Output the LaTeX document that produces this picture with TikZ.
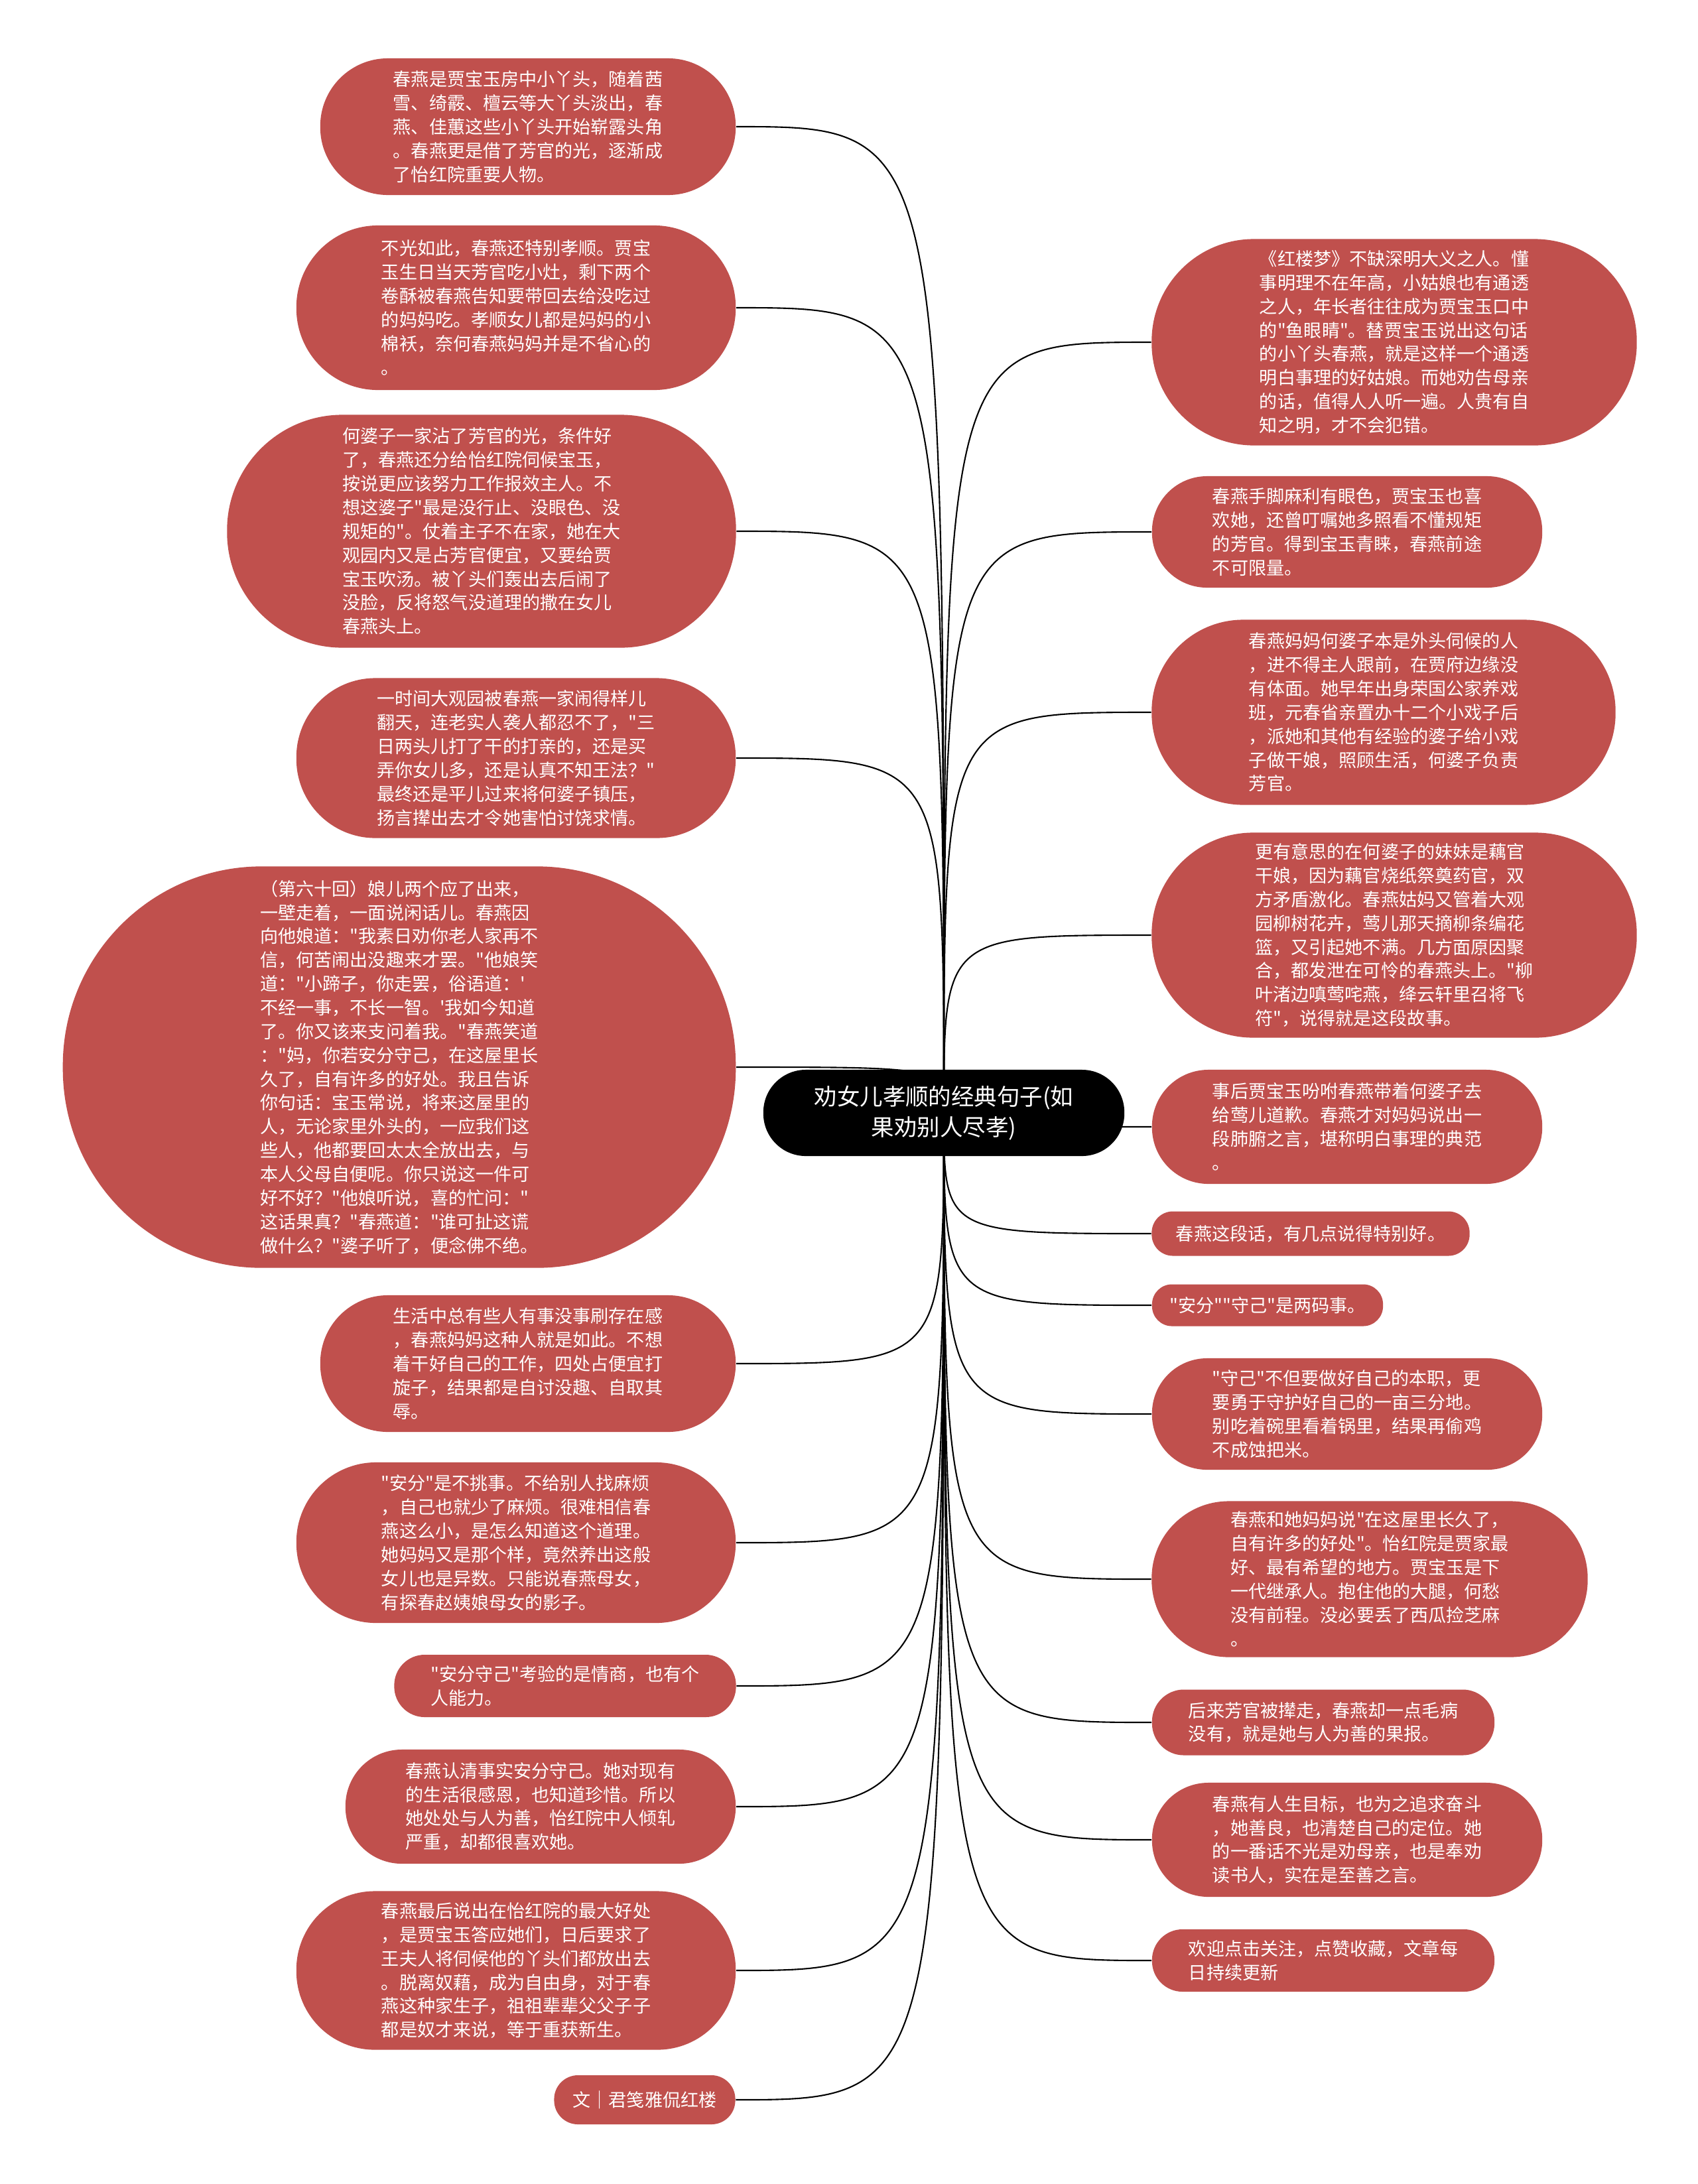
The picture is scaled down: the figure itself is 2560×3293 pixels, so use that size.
\documentclass[tikz,border=0pt]{standalone}
\usepackage{fontspec}
\newfontfamily\cjk{Noto Sans CJK SC}
\usepackage{tikz}
\usetikzlibrary{positioning}
\definecolor{leafred}{RGB}{192, 80, 77}
\pgfdeclarelayer{background}
\pgfsetlayers{background,main}

\begin{document}
\begin{tikzpicture}[x=0.01cm, y=-0.01cm,
                notebox/.style={rectangle, fill=leafred, text=white, align=left, inner sep=0pt, font=\cjk\fontsize{7.7pt}{10.2pt}\selectfont},
                titlebox/.style={rectangle, fill=black, text=white, align=center, inner sep=0pt, minimum width=5.44cm, minimum height=1.3cm, rounded corners=0.64cm, font=\cjk\fontsize{9.8pt}{13pt}\selectfont},
                branch/.style={draw=black, line width=0.6pt}
            ]
                \useasboundingbox (0,0) rectangle (2560,3293);

                \node[titlebox] (title) at (1423, 1678) {劝女儿孝顺的经典句子(如\\果劝别人尽孝)};

                % left side
                \node[notebox, minimum width=6.26cm, minimum height=2.06cm, rounded corners=1.02cm] (l1) at (796, 191) {春燕是贾宝玉房中小丫头，随着茜\\雪、绮霰、檀云等大丫头淡出，春\\燕、佳蕙这些小丫头开始崭露头角\\。春燕更是借了芳官的光，逐渐成\\了怡红院重要人物。};
                \node[notebox, minimum width=6.62cm, minimum height=2.48cm, rounded corners=1.23cm] (l2) at (778, 464) {不光如此，春燕还特别孝顺。贾宝\\玉生日当天芳官吃小灶，剩下两个\\卷酥被春燕告知要带回去给没吃过\\的妈妈吃。孝顺女儿都是妈妈的小\\棉袄，奈何春燕妈妈并是不省心的\\。};
                \node[notebox, minimum width=7.67cm, minimum height=3.51cm, rounded corners=1.74cm] (l3) at (726, 801) {何婆子一家沾了芳官的光，条件好\\了，春燕还分给怡红院伺候宝玉，\\按说更应该努力工作报效主人。不\\想这婆子"最是没行止、没眼色、没\\规矩的"。仗着主子不在家，她在大\\观园内又是占芳官便宜，又要给贾\\宝玉吹汤。被丫头们轰出去后闹了\\没脸，反将怒气没道理的撒在女儿\\春燕头上。};
                \node[notebox, minimum width=6.62cm, minimum height=2.41cm, rounded corners=1.19cm] (l4) at (778, 1143) {一时间大观园被春燕一家闹得样儿\\翻天，连老实人袭人都忍不了，"三\\日两头儿打了干的打亲的，还是买\\弄你女儿多，还是认真不知王法？"\\最终还是平儿过来将何婆子镇压，\\扬言撵出去才令她害怕讨饶求情。};
                \node[notebox, minimum width=10.14cm, minimum height=6.05cm, rounded corners=3.0cm] (l5) at (602, 1609) {（第六十回）娘儿两个应了出来，\\一壁走着，一面说闲话儿。春燕因\\向他娘道："我素日劝你老人家再不\\信，何苦闹出没趣来才罢。"他娘笑\\道："小蹄子，你走罢，俗语道：'\\不经一事，不长一智。'我如今知道\\了。你又该来支问着我。"春燕笑道\\："妈，你若安分守己，在这屋里长\\久了，自有许多的好处。我且告诉\\你句话：宝玉常说，将来这屋里的\\人，无论家里外头的，一应我们这\\些人，他都要回太太全放出去，与\\本人父母自便呢。你只说这一件可\\好不好？"他娘听说，喜的忙问："\\这话果真？"春燕道："谁可扯这谎\\做什么？"婆子听了，便念佛不绝。};
                \node[notebox, minimum width=6.26cm, minimum height=2.06cm, rounded corners=1.02cm] (l6) at (796, 2056) {生活中总有些人有事没事刷存在感\\，春燕妈妈这种人就是如此。不想\\着干好自己的工作，四处占便宜打\\旋子，结果都是自讨没趣、自取其\\辱。};
                \node[notebox, minimum width=6.62cm, minimum height=2.42cm, rounded corners=1.2cm] (l7) at (778, 2326) {"安分"是不挑事。不给别人找麻烦\\，自己也就少了麻烦。很难相信春\\燕这么小，是怎么知道这个道理。\\她妈妈又是那个样，竟然养出这般\\女儿也是异数。只能说春燕母女，\\有探春赵姨娘母女的影子。};
                \node[notebox, minimum width=5.15cm, minimum height=0.94cm, rounded corners=0.46cm] (l8) at (852, 2542) {"安分守己"考验的是情商，也有个\\人能力。};
                \node[notebox, minimum width=5.88cm, minimum height=1.72cm, rounded corners=0.85cm] (l9) at (815, 2724) {春燕认清事实安分守己。她对现有\\的生活很感恩，也知道珍惜。所以\\她处处与人为善，怡红院中人倾轧\\严重，却都很喜欢她。};
                \node[notebox, minimum width=6.62cm, minimum height=2.39cm, rounded corners=1.18cm] (l10) at (778, 2971) {春燕最后说出在怡红院的最大好处\\，是贾宝玉答应她们，日后要求了\\王夫人将伺候他的丫头们都放出去\\。脱离奴藉，成为自由身，对于春\\燕这种家生子，祖祖辈辈父父子子\\都是奴才来说，等于重获新生。};
                \node[notebox, minimum width=2.73cm, minimum height=0.74cm, rounded corners=0.36cm] (l11) at (972, 3166) {文｜君笺雅侃红楼};

                % right side
                \node[notebox, minimum width=7.31cm, minimum height=3.11cm, rounded corners=1.54cm] (r1) at (2102, 516) {《红楼梦》不缺深明大义之人。懂\\事明理不在年高，小姑娘也有通透\\之人，年长者往往成为贾宝玉口中\\的"鱼眼睛"。替贾宝玉说出这句话\\的小丫头春燕，就是这样一个通透\\明白事理的好姑娘。而她劝告母亲\\的话，值得人人听一遍。人贵有自\\知之明，才不会犯错。};
                \node[notebox, minimum width=5.88cm, minimum height=1.68cm, rounded corners=0.83cm] (r2) at (2031, 802) {春燕手脚麻利有眼色，贾宝玉也喜\\欢她，还曾叮嘱她多照看不懂规矩\\的芳官。得到宝玉青睐，春燕前途\\不可限量。};
                \node[notebox, minimum width=6.99cm, minimum height=2.79cm, rounded corners=1.38cm] (r3) at (2086, 1074) {春燕妈妈何婆子本是外头伺候的人\\，进不得主人跟前，在贾府边缘没\\有体面。她早年出身荣国公家养戏\\班，元春省亲置办十二个小戏子后\\，派她和其他有经验的婆子给小戏\\子做干娘，照顾生活，何婆子负责\\芳官。};
                \node[notebox, minimum width=7.31cm, minimum height=3.09cm, rounded corners=1.53cm] (r4) at (2102, 1410) {更有意思的在何婆子的妹妹是藕官\\干娘，因为藕官烧纸祭奠药官，双\\方矛盾激化。春燕姑妈又管着大观\\园柳树花卉，莺儿那天摘柳条编花\\篮，又引起她不满。几方面原因聚\\合，都发泄在可怜的春燕头上。"柳\\叶渚边嗔莺咤燕，绛云轩里召将飞\\符"，说得就是这段故事。};
                \node[notebox, minimum width=5.88cm, minimum height=1.72cm, rounded corners=0.85cm] (r5) at (2031, 1699) {事后贾宝玉吩咐春燕带着何婆子去\\给莺儿道歉。春燕才对妈妈说出一\\段肺腑之言，堪称明白事理的典范\\。};
                \node[notebox, minimum width=4.79cm, minimum height=0.67cm, rounded corners=0.32cm] (r6) at (1976, 1860) {春燕这段话，有几点说得特别好。};
                \node[notebox, minimum width=3.48cm, minimum height=0.63cm, rounded corners=0.3cm] (r7) at (1911, 1968) {"安分""守己"是两码事。};
                \node[notebox, minimum width=5.88cm, minimum height=1.68cm, rounded corners=0.83cm] (r8) at (2031, 2132) {"守己"不但要做好自己的本职，更\\要勇于守护好自己的一亩三分地。\\别吃着碗里看着锅里，结果再偷鸡\\不成蚀把米。};
                \node[notebox, minimum width=6.57cm, minimum height=2.35cm, rounded corners=1.16cm] (r9) at (2065, 2381) {春燕和她妈妈说"在这屋里长久了，\\自有许多的好处"。怡红院是贾家最\\好、最有希望的地方。贾宝玉是下\\一代继承人。抱住他的大腿，何愁\\没有前程。没必要丢了西瓜捡芝麻\\。};
                \node[notebox, minimum width=5.16cm, minimum height=0.99cm, rounded corners=0.48cm] (r10) at (1995, 2597) {后来芳官被撵走，春燕却一点毛病\\没有，就是她与人为善的果报。};
                \node[notebox, minimum width=5.88cm, minimum height=1.72cm, rounded corners=0.85cm] (r11) at (2031, 2774) {春燕有人生目标，也为之追求奋斗\\，她善良，也清楚自己的定位。她\\的一番话不光是劝母亲，也是奉劝\\读书人，实在是至善之言。};
                \node[notebox, minimum width=5.16cm, minimum height=0.94cm, rounded corners=0.46cm] (r12) at (1995, 2956) {欢迎点击关注，点赞收藏，文章每\\日持续更新};

                \begin{pgfonlayer}{background}
                \fill[white] (0,0) rectangle (2560,3293);
                \draw[branch] (title.center) .. controls (title.center |- l1.east) .. (l1.east);
                \draw[branch] (title.center) .. controls (title.center |- l2.east) .. (l2.east);
                \draw[branch] (title.center) .. controls (title.center |- l3.east) .. (l3.east);
                \draw[branch] (title.center) .. controls (title.center |- l4.east) .. (l4.east);
                \draw[branch] (title.center) .. controls (title.center |- l5.east) .. (l5.east);
                \draw[branch] (title.center) .. controls (title.center |- l6.east) .. (l6.east);
                \draw[branch] (title.center) .. controls (title.center |- l7.east) .. (l7.east);
                \draw[branch] (title.center) .. controls (title.center |- l8.east) .. (l8.east);
                \draw[branch] (title.center) .. controls (title.center |- l9.east) .. (l9.east);
                \draw[branch] (title.center) .. controls (title.center |- l10.east) .. (l10.east);
                \draw[branch] (title.center) .. controls (title.center |- l11.east) .. (l11.east);

                \draw[branch] (title.center) .. controls (title.center |- r1.west) .. (r1.west);
                \draw[branch] (title.center) .. controls (title.center |- r2.west) .. (r2.west);
                \draw[branch] (title.center) .. controls (title.center |- r3.west) .. (r3.west);
                \draw[branch] (title.center) .. controls (title.center |- r4.west) .. (r4.west);
                \draw[branch] (title.center) .. controls (title.center |- r5.west) .. (r5.west);
                \draw[branch] (title.center) .. controls (title.center |- r6.west) .. (r6.west);
                \draw[branch] (title.center) .. controls (title.center |- r7.west) .. (r7.west);
                \draw[branch] (title.center) .. controls (title.center |- r8.west) .. (r8.west);
                \draw[branch] (title.center) .. controls (title.center |- r9.west) .. (r9.west);
                \draw[branch] (title.center) .. controls (title.center |- r10.west) .. (r10.west);
                \draw[branch] (title.center) .. controls (title.center |- r11.west) .. (r11.west);
                \draw[branch] (title.center) .. controls (title.center |- r12.west) .. (r12.west);
                \end{pgfonlayer}
            \end{tikzpicture}
\end{document}
